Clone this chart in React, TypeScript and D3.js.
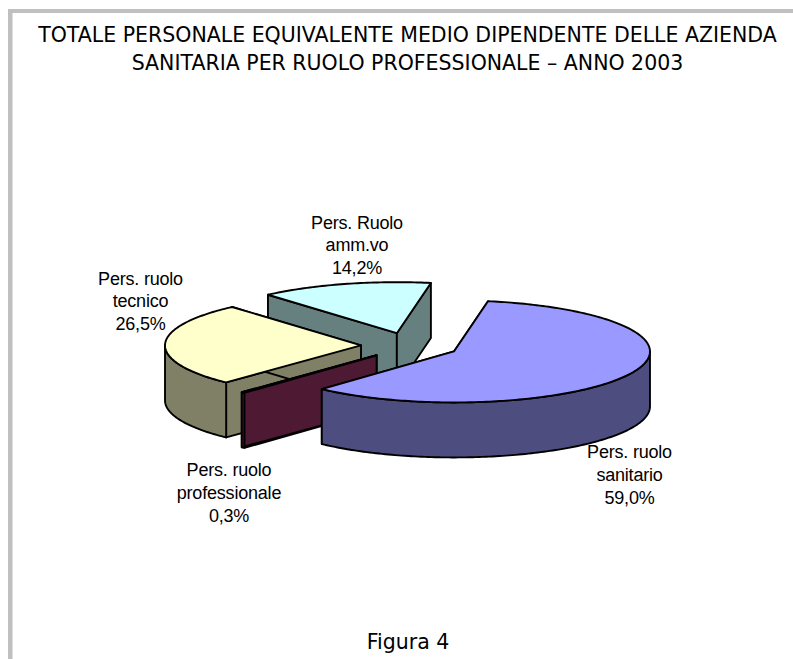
import React from "react";
import * as d3 from "d3";

const titleLines = [
  "TOTALE PERSONALE EQUIVALENTE MEDIO DIPENDENTE DELLE AZIENDA",
  "SANITARIA PER RUOLO PROFESSIONALE – ANNO 2003",
];
const caption = "Figura 4";
const categories = ["Pers. ruolo sanitario", "Pers. ruolo professionale", "Pers. ruolo tecnico", "Pers. Ruolo amm.vo"];
const values = [59.0, 0.3, 26.5, 14.2];
const valueLabels = ["59,0%", "0,3%", "26,5%", "14,2%"];
const labelLines = [
  ["Pers. ruolo", "sanitario"],
  ["Pers. ruolo", "professionale"],
  ["Pers. ruolo", "tecnico"],
  ["Pers. Ruolo", "amm.vo"],
];
const topColors = ["#9999FF", "#993366", "#FFFFCC", "#CCFFFF"];
const sideColors = ["#4D4D80", "#4D1933", "#808066", "#668080"];
const labelAnchors = [
  [629.5, 458],
  [229, 476],
  [140.5, 284.5],
  [357, 228.5],
];
const drawOrder = [3, 2, 1, 0];

const CX = 410, CY = 345.7, RX = 196, RY = 51, DEPTH = 55, EX = 49, EY = 13;
const START = (10 * Math.PI) / 180;
const STROKE = 1.9;

const pieGen = d3.pie<number>().sort(null).startAngle(START).endAngle(START + 2 * Math.PI);
const arcs = pieGen(values);
const line = d3.line<[number, number]>();

function rim(a0: number, a1: number, cx: number, cy: number, dy = 0): [number, number][] {
  const n = Math.max(2, Math.ceil(((a1 - a0) * 180) / Math.PI));
  return d3.range(n + 1).map((i) => {
    const t = a0 + ((a1 - a0) * i) / n;
    return [cx + RX * Math.sin(t), cy + dy - RY * Math.cos(t)] as [number, number];
  });
}

function Slice({ i }: { i: number }) {
  const { startAngle: a0, endAngle: a1 } = arcs[i];
  const mid = (a0 + a1) / 2;
  const cx = CX + EX * Math.sin(mid);
  const cy = CY - EY * Math.cos(mid);
  const side = { fill: sideColors[i], stroke: "#000", strokeWidth: STROKE, strokeLinejoin: "round" as const };
  const apex: [number, number] = [cx, cy];
  const apexLow: [number, number] = [cx, cy + DEPTH];
  const face = (a: number) => {
    const p: [number, number] = [cx + RX * Math.sin(a), cy - RY * Math.cos(a)];
    return line([apex, p, [p[0], p[1] + DEPTH], apexLow])! + "Z";
  };
  // outer wall: the part of the rim on the near side of the ellipse
  const walls: [number, number][] = [];
  for (const k of [0, 1]) {
    const lo = Math.max(a0, Math.PI / 2 + 2 * k * Math.PI);
    const hi = Math.min(a1, (3 * Math.PI) / 2 + 2 * k * Math.PI);
    if (hi > lo) walls.push([lo, hi]);
  }
  return (
    <g>
      <path d={face(a0)} {...side} />
      <path d={face(a1)} {...side} />
      {walls.map(([lo, hi], k) => (
        <path key={k} d={line([...rim(lo, hi, cx, cy), ...rim(lo, hi, cx, cy, DEPTH).reverse()])! + "Z"} {...side} />
      ))}
      <path
        d={line([apex, ...rim(a0, a1, cx, cy)])! + "Z"}
        fill={topColors[i]}
        stroke="#000"
        strokeWidth={STROKE}
        strokeLinejoin="round"
      />
    </g>
  );
}

export default function App() {
  return (
    <svg
      width={793}
      height={659}
      style={{ position: "absolute", left: 0, top: 0, background: "#fff" }}
    >
      <path d="M8 659V9H793V13H12.5V659Z" fill="#C0C0C0" />
      {titleLines.map((t, i) => (
        <text
          key={i}
          x={407.5}
          y={41.5 + i * 28}
          textAnchor="middle"
          fontFamily="'DejaVu Sans'"
          fontSize={20.5}
          fill="#000"
        >
          {t}
        </text>
      ))}
      {drawOrder.map((i) => (
        <Slice key={categories[i]} i={i} />
      ))}
      {categories.map((c, i) => (
        <text
          key={c}
          textAnchor="middle"
          fontFamily="'Liberation Sans'"
          fontSize={18}
          letterSpacing={-0.2}
          fill="#000"
        >
          {[...labelLines[i], valueLabels[i]].map((s, k) => (
            <tspan key={k} x={labelAnchors[i][0]} y={labelAnchors[i][1] + k * 22.8}>
              {s}
            </tspan>
          ))}
        </text>
      ))}
      <text x={408} y={649} textAnchor="middle" fontFamily="'DejaVu Sans'" fontSize={20.5} fill="#000">
        {caption}
      </text>
    </svg>
  );
}
